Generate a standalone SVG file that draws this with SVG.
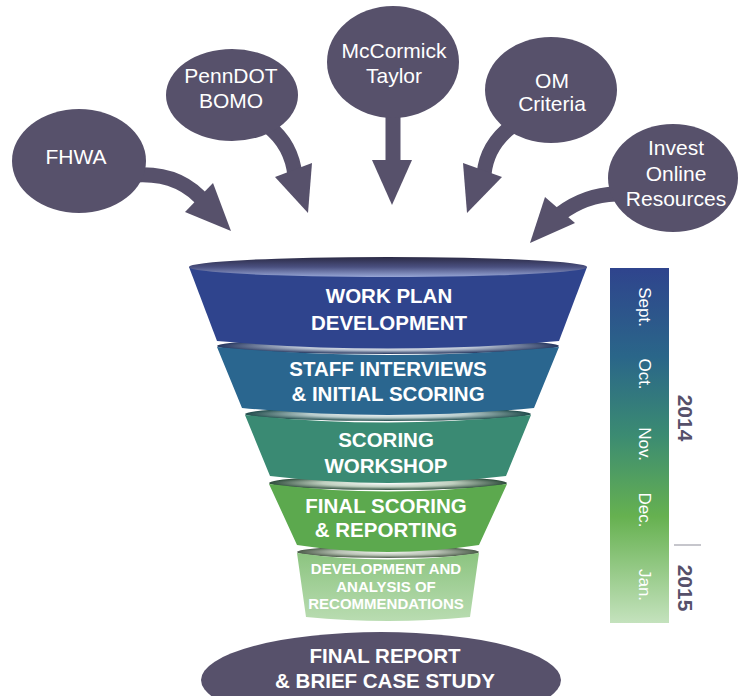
<svg xmlns="http://www.w3.org/2000/svg" width="741" height="696" viewBox="0 0 741 696">
<defs>
<style>
.bub{fill:#57516b}
.bt{font-family:"Liberation Sans",Arial,sans-serif;font-size:21px;fill:#fff;text-anchor:middle}
.ft{font-family:"Liberation Sans",Arial,sans-serif;font-size:20.5px;font-weight:bold;fill:#fff;text-anchor:middle}
.fs{font-family:"Liberation Sans",Arial,sans-serif;font-size:15px;font-weight:bold;fill:#fff;text-anchor:middle}
.mo{font-family:"Liberation Sans",Arial,sans-serif;font-size:17px;fill:#fff;text-anchor:middle}
.yr{font-family:"Liberation Sans",Arial,sans-serif;font-size:21px;font-weight:bold;fill:#56506a;text-anchor:middle}
.shaft{fill:none;stroke:#57516b;stroke-width:15}
.head{fill:#57516b}
</style>
<linearGradient id="topRim" x1="0" y1="0" x2="0" y2="1">
<stop offset="0" stop-color="#2b2a45"/>
<stop offset="0.5" stop-color="#4a5080"/>
<stop offset="1" stop-color="#97a6d6"/>
</linearGradient>
<radialGradient id="rim2" cx="0.5" cy="0.5" r="0.5">
<stop offset="0" stop-color="#ffffff"/>
<stop offset="0.55" stop-color="#b8c2d2"/>
<stop offset="1" stop-color="#24355e"/>
</radialGradient>
<radialGradient id="rim3" cx="0.5" cy="0.5" r="0.5">
<stop offset="0" stop-color="#ffffff"/>
<stop offset="0.55" stop-color="#b8cccc"/>
<stop offset="1" stop-color="#1f4a4a"/>
</radialGradient>
<radialGradient id="rim4" cx="0.5" cy="0.5" r="0.5">
<stop offset="0" stop-color="#ffffff"/>
<stop offset="0.55" stop-color="#c0d0c0"/>
<stop offset="1" stop-color="#2c4a3a"/>
</radialGradient>
<radialGradient id="rim5" cx="0.5" cy="0.5" r="0.5">
<stop offset="0" stop-color="#f4f6f2"/>
<stop offset="0.55" stop-color="#b8c2b4"/>
<stop offset="1" stop-color="#4a5a48"/>
</radialGradient>
<linearGradient id="b5" x1="0" y1="0" x2="0" y2="1">
<stop offset="0" stop-color="#8cc480"/>
<stop offset="1" stop-color="#b9dcb1"/>
</linearGradient>
<linearGradient id="tl" x1="0" y1="0" x2="0" y2="1">
<stop offset="0" stop-color="#2f448d"/>
<stop offset="0.25" stop-color="#2a6689"/>
<stop offset="0.47" stop-color="#3b8b72"/>
<stop offset="0.7" stop-color="#66b150"/>
<stop offset="1" stop-color="#c4e2bd"/>
</linearGradient>
</defs>

<rect width="741" height="696" fill="#ffffff"/>

<g id="connectors">
<path class="shaft" d="M135,175 Q180,172 205,203"/>
<polygon class="head" points="185,212 213,183 231,231"/>
<path class="shaft" d="M268,126 Q292,145 295,176"/>
<polygon class="head" points="275,177 312,163 308,213"/>
<path class="shaft" d="M393,110 L393,166"/>
<polygon class="head" points="372,160 412,160 392,205"/>
<path class="shaft" d="M512,126 Q487,145 484,174"/>
<polygon class="head" points="463,163 502,177 467,213"/>
<path class="shaft" d="M616,194 Q585,195 560,214"/>
<polygon class="head" points="545,197 575,223 530,243"/>
</g>

<g id="fhwa">
<ellipse class="bub" cx="79" cy="161" rx="67" ry="52"/>
<text class="bt" x="76" y="164">FHWA</text>
</g>
<g id="penndot">
<ellipse class="bub" cx="232" cy="95" rx="66" ry="46"/>
<text class="bt" x="231" y="83">PennDOT</text>
<text class="bt" x="231" y="108">BOMO</text>
</g>
<g id="mccormick">
<ellipse class="bub" cx="393" cy="62" rx="66" ry="56"/>
<text class="bt" x="394" y="58">McCormick</text>
<text class="bt" x="394" y="83">Taylor</text>
</g>
<g id="om">
<ellipse class="bub" cx="551" cy="90" rx="66" ry="53"/>
<text class="bt" x="552" y="88">OM</text>
<text class="bt" x="552" y="111">Criteria</text>
</g>
<g id="invest">
<ellipse class="bub" cx="673" cy="178" rx="65" ry="54"/>
<text class="bt" x="676" y="155">Invest</text>
<text class="bt" x="676" y="181">Online</text>
<text class="bt" x="676" y="206">Resources</text>
</g>

<g id="stage5">
<ellipse cx="388" cy="552" rx="91" ry="6" fill="url(#rim5)"/>
<path d="M297,553 L306,617 Q388,625 470,617 L479,553 Q388,566 297,553 Z" fill="url(#b5)"/>
<text class="fs" x="386" y="574">DEVELOPMENT AND</text>
<text class="fs" x="386" y="592">ANALYSIS OF</text>
<text class="fs" x="386" y="609">RECOMMENDATIONS</text>
</g>
<g id="stage4">
<ellipse cx="388" cy="483" rx="119" ry="7" fill="url(#rim4)"/>
<path d="M269,484 L297,545 Q388,559 479,545 L507,484 Q388,499 269,484 Z" fill="#5ca94e"/>
<text class="ft" x="386" y="513">FINAL SCORING</text>
<text class="ft" x="386" y="537">&amp; REPORTING</text>
</g>
<g id="stage3">
<ellipse cx="388" cy="414" rx="143" ry="7" fill="url(#rim3)"/>
<path d="M245,415 L270,476 Q388,490 506,476 L531,415 Q388,430 245,415 Z" fill="#3a8a73"/>
<text class="ft" x="386" y="447">SCORING</text>
<text class="ft" x="386" y="473">WORKSHOP</text>
</g>
<g id="stage2">
<ellipse cx="388" cy="346" rx="171" ry="8" fill="url(#rim2)"/>
<path d="M217,347 L242,408 Q388,422 534,408 L559,347 Q388,363 217,347 Z" fill="#2a668f"/>
<text class="ft" x="388" y="376">STAFF INTERVIEWS</text>
<text class="ft" x="388" y="401">&amp; INITIAL SCORING</text>
</g>
<g id="stage1">
<path d="M189,267 L217,341 Q388,356 559,341 L587,267 Z" fill="#2f448d"/>
<ellipse cx="388" cy="267" rx="199" ry="10" fill="url(#topRim)"/>
<text class="ft" x="389" y="303">WORK PLAN</text>
<text class="ft" x="389" y="330">DEVELOPMENT</text>
</g>

<g id="final">
<ellipse cx="381" cy="680" rx="180" ry="48" fill="#57516b"/>
<text class="ft" x="385" y="663">FINAL REPORT</text>
<text class="ft" x="385" y="688">&amp; BRIEF CASE STUDY</text>
</g>

<g id="timeline">
<rect x="610" y="268" width="59" height="355" fill="url(#tl)"/>
<text class="mo" transform="translate(639,307) rotate(90)">Sept.</text>
<text class="mo" transform="translate(639,374) rotate(90)">Oct.</text>
<text class="mo" transform="translate(639,444) rotate(90)">Nov.</text>
<text class="mo" transform="translate(639,510) rotate(90)">Dec.</text>
<text class="mo" transform="translate(639,585) rotate(90)">Jan.</text>
<text class="yr" transform="translate(678,418) rotate(90)">2014</text>
<line x1="674" y1="545" x2="701" y2="545" stroke="#a0a0aa" stroke-width="1.2"/>
<text class="yr" transform="translate(678,588) rotate(90)">2015</text>
</g>
</svg>
